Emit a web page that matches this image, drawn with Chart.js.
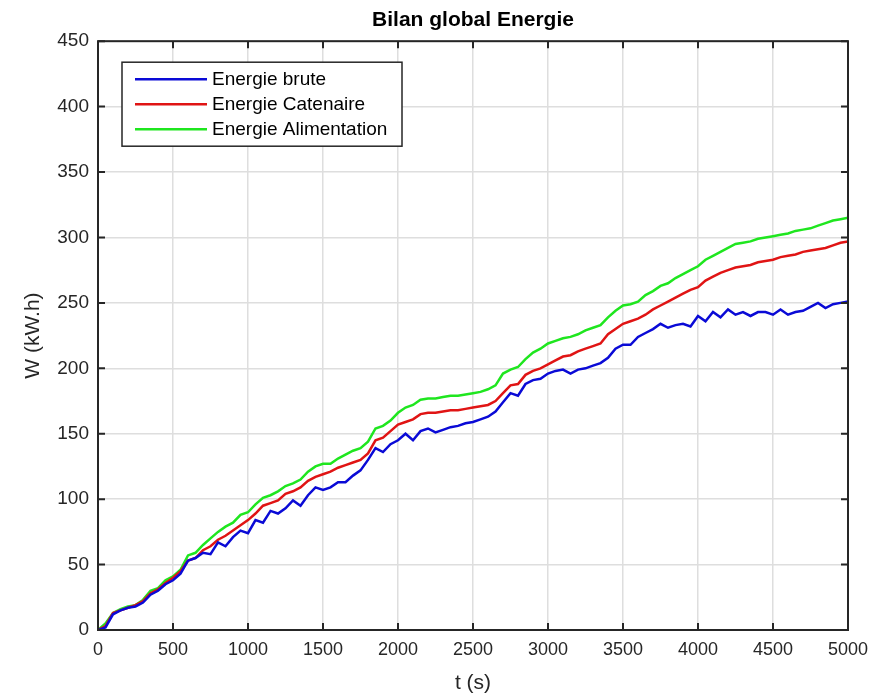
<!DOCTYPE html>
<html>
<head>
<meta charset="utf-8">
<script src="https://cdn.jsdelivr.net/npm/chart.js@4"></script>
<style>
  html, body { margin: 0; padding: 0; background: #fff; }
  #c { display: block; }
</style>
</head>
<body>
<canvas id="c" width="887" height="698"></canvas>
<script>
// temps (s), un point tous les 50 s
const temps = [
  0, 50, 100, 150, 200, 250, 300, 350, 400, 450,
  500, 550, 600, 650, 700, 750, 800, 850, 900, 950,
  1000, 1050, 1100, 1150, 1200, 1250, 1300, 1350, 1400, 1450,
  1500, 1550, 1600, 1650, 1700, 1750, 1800, 1850, 1900, 1950,
  2000, 2050, 2100, 2150, 2200, 2250, 2300, 2350, 2400, 2450,
  2500, 2550, 2600, 2650, 2700, 2750, 2800, 2850, 2900, 2950,
  3000, 3050, 3100, 3150, 3200, 3250, 3300, 3350, 3400, 3450,
  3500, 3550, 3600, 3650, 3700, 3750, 3800, 3850, 3900, 3950,
  4000, 4050, 4100, 4150, 4200, 4250, 4300, 4350, 4400, 4450,
  4500, 4550, 4600, 4650, 4700, 4750, 4800, 4850, 4900, 4950,
  5000
];

// Energie brute (kW.h)
const energieBrute = [
  0, 2, 12, 15, 17, 18, 21, 27, 30, 35,
  38, 43, 53, 55, 59, 58, 67, 64, 71, 76,
  74, 84, 82, 91, 89, 93, 99, 95, 103, 109,
  107, 109, 113, 113, 118, 122, 130, 139, 136, 142,
  145, 150, 145, 152, 154, 151, 153, 155, 156, 158,
  159, 161, 163, 167, 174, 181, 179, 188, 191, 192,
  196, 198, 199, 196, 199, 200, 202, 204, 208, 215,
  218, 218, 224, 227, 230, 234, 231, 233, 234, 232,
  240, 236, 243, 239, 245, 241, 243, 240, 243, 243,
  241, 245, 241, 243, 244, 247, 250, 246, 249, 250,
  251
];

// Energie Catenaire (kW.h)
const energieCatenaire = [
  0, 3, 13, 15, 17, 19, 22, 28, 31, 36,
  40, 45, 53, 55, 61, 64, 69, 72, 76, 80,
  84, 89, 95, 97, 99, 104, 106, 109, 114, 117,
  119, 121, 124, 126, 128, 130, 135, 145, 147, 152,
  157, 159, 161, 165, 166, 166, 167, 168, 168, 169,
  170, 171, 172, 175, 181, 187, 188, 195, 198, 200,
  203, 206, 209, 210, 213, 215, 217, 219, 226, 230,
  234, 236, 238, 241, 245, 248, 251, 254, 257, 260,
  262, 267, 270, 273, 275, 277, 278, 279, 281, 282,
  283, 285, 286, 287, 289, 290, 291, 292, 294, 296,
  297
];

// Energie Alimentation (kW.h)
const energieAlimentation = [
  0, 5, 13, 16, 18, 19, 23, 30, 32, 38,
  41, 46, 57, 59, 65, 70, 75, 79, 82, 88,
  90, 96, 101, 103, 106, 110, 112, 115, 121, 125,
  127, 127, 131, 134, 137, 139, 144, 154, 156, 160,
  166, 170, 172, 176, 177, 177, 178, 179, 179, 180,
  181, 182, 184, 187, 196, 199, 201, 207, 212, 215,
  219, 221, 223, 224, 226, 229, 231, 233, 239, 244,
  248, 249, 251, 256, 259, 263, 265, 269, 272, 275,
  278, 283, 286, 289, 292, 295, 296, 297, 299, 300,
  301, 302, 303, 305, 306, 307, 309, 311, 313, 314,
  315
];

const serieNoms = ['Energie brute', 'Energie Catenaire', 'Energie Alimentation'];
const serieCouleurs = ['#0a0ad6', '#e01414', '#1fe61f'];
const xTicks = [0, 500, 1000, 1500, 2000, 2500, 3000, 3500, 4000, 4500, 5000];
const yTicks = [0, 50, 100, 150, 200, 250, 300, 350, 400, 450];

const police = "'Liberation Sans', Arial, Helvetica, sans-serif";

function points(vals) {
  return temps.map((t, i) => ({ x: t, y: vals[i] }));
}

// cadre + graduations intérieures + légende dans la zone de tracé
const cadreMatlab = {
  id: 'cadreMatlab',
  afterDatasetsDraw(chart) {
    const ctx = chart.ctx;
    const a = chart.chartArea;
    const sx = chart.scales.x, sy = chart.scales.y;
    ctx.save();
    ctx.strokeStyle = '#262626';
    ctx.lineWidth = 2;
    ctx.beginPath();
    xTicks.forEach(v => {
      const px = sx.getPixelForValue(v);
      ctx.moveTo(px, a.bottom); ctx.lineTo(px, a.bottom - 7);
      ctx.moveTo(px, a.top); ctx.lineTo(px, a.top + 7);
    });
    yTicks.forEach(v => {
      const py = sy.getPixelForValue(v);
      ctx.moveTo(a.left, py); ctx.lineTo(a.left + 7, py);
      ctx.moveTo(a.right, py); ctx.lineTo(a.right - 7, py);
    });
    ctx.stroke();
    ctx.strokeRect(a.left, a.top, a.right - a.left, a.bottom - a.top);

    // légende
    const lx = a.left + 24, ly = a.top + 21, lw = 280, lh = 84;
    ctx.fillStyle = '#fff';
    ctx.fillRect(lx, ly, lw, lh);
    ctx.lineWidth = 1.5;
    ctx.strokeStyle = '#262626';
    ctx.strokeRect(lx, ly, lw, lh);
    ctx.font = '19px ' + police;
    ctx.textBaseline = 'middle';
    chart.data.datasets.forEach((ds, i) => {
      const y = ly + 17 + i * 25;
      ctx.strokeStyle = ds.borderColor;
      ctx.lineWidth = 2.5;
      ctx.beginPath();
      ctx.moveTo(lx + 13, y); ctx.lineTo(lx + 85, y);
      ctx.stroke();
      ctx.fillStyle = '#000';
      ctx.fillText(ds.label, lx + 90, y + 1);
    });
    ctx.restore();
  }
};

new Chart(document.getElementById('c'), {
  type: 'line',
  data: {
    datasets: [
      { label: serieNoms[0], data: points(energieBrute), borderColor: serieCouleurs[0] },
      { label: serieNoms[1], data: points(energieCatenaire), borderColor: serieCouleurs[1] },
      { label: serieNoms[2], data: points(energieAlimentation), borderColor: serieCouleurs[2] }
    ]
  },
  options: {
    responsive: false,
    animation: false,
    layout: { padding: { left: 0, right: 39, top: 0, bottom: 0 } },
    elements: {
      point: { radius: 0 },
      line: { borderWidth: 2.5, tension: 0 }
    },
    plugins: {
      legend: { display: false },
      tooltip: { enabled: false },
      title: {
        display: true,
        text: 'Bilan global Energie',
        fullSize: false,
        color: '#000',
        font: { family: police, size: 21, weight: 'bold' },
        padding: { top: 8, bottom: 8 }
      }
    },
    scales: {
      x: {
        type: 'linear',
        min: 0, max: 5000,
        afterBuildTicks: s => { s.ticks = xTicks.map(v => ({ value: v })); },
        afterFit: s => { s.height = 68; },
        grid: { color: '#dedede', lineWidth: 1.5, drawTicks: false },
        border: { display: false },
        ticks: {
          color: '#262626', padding: 9, maxRotation: 0,
          font: { family: police, size: 18 },
          callback: v => String(v)
        },
        title: {
          display: true, text: 't (s)', color: '#262626',
          font: { family: police, size: 21 },
          padding: { top: 0, bottom: 2 }
        }
      },
      y: {
        min: 0, max: 450,
        afterBuildTicks: s => { s.ticks = yTicks.map(v => ({ value: v })); },
        afterFit: s => { s.width = 98; },
        grid: { color: '#dedede', lineWidth: 1.5, drawTicks: false },
        border: { display: false },
        ticks: {
          color: '#262626', padding: 9,
          font: { family: police, size: 19 },
          callback: v => String(v)
        },
        title: {
          display: true, text: 'W (kW.h)', color: '#262626',
          font: { family: police, size: 21 },
          padding: { top: 21, bottom: 0 }
        }
      }
    }
  },
  plugins: [cadreMatlab]
});
</script>
</body>
</html>
